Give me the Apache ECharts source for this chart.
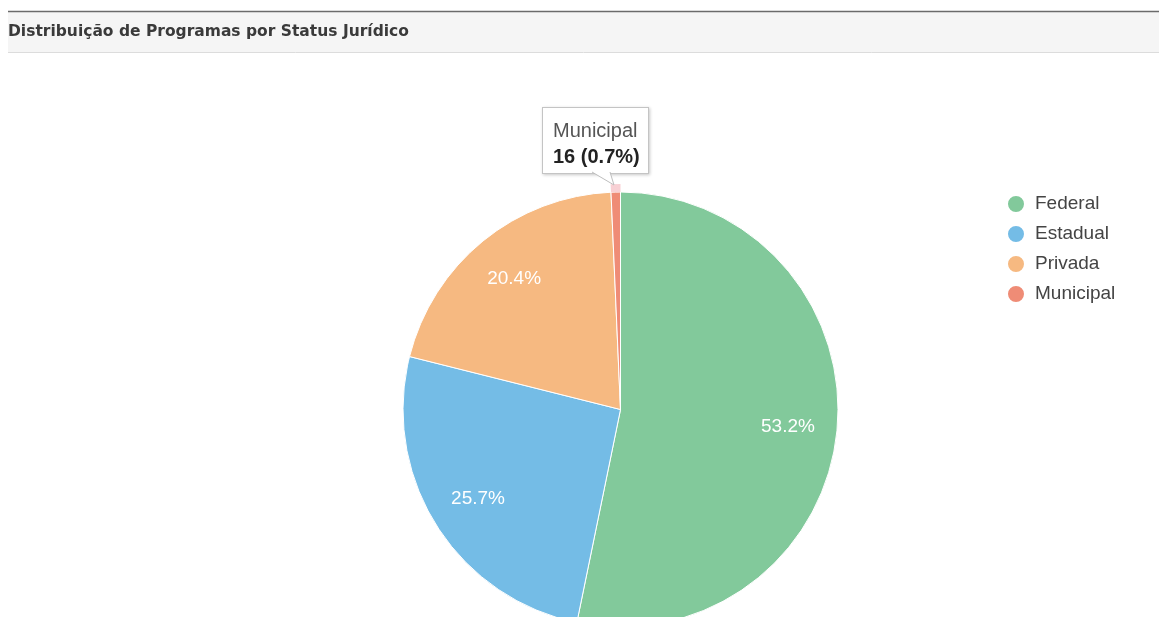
<!DOCTYPE html>
<html>
<head>
<meta charset="utf-8">
<script src="https://cdn.jsdelivr.net/npm/echarts@6/dist/echarts.min.js"></script>
<style>
  html, body { margin: 0; padding: 0; background: #fff; }
  #chart { width: 1159px; height: 617px; }
</style>
</head>
<body>
<div id="chart"></div>
<script>
// Programas por status jurídico
const categories = ['Federal', 'Estadual', 'Privada', 'Municipal'];
const programCounts = [1224, 591, 469, 16];
const chartTitle = 'Distribuição de Programas por Status Jurídico';
const focusedIndex = 3; // fatia com o balão aberto

const palette = ['#82c99b', '#74bce6', '#f6b981', '#ef8c76'];
const FONT = 'Arial, "Liberation Sans", sans-serif';
const TITLE_FONT = '"DejaVu Sans", Verdana, sans-serif';

const total = programCounts.reduce((a, b) => a + b, 0);
const pct = v => (v / total * 100).toFixed(1) + '%';

const CX = 620.5, CY = 409.5, R = 217.5, RING = 8;

const pieData = categories.map((name, i) => ({
  name, value: programCounts[i], itemStyle: { color: palette[i] }
}));

// anchor point of the callout: just outside the focused slice
function calloutTip() {
  let before = 0;
  for (let i = 0; i < focusedIndex; i++) before += programCounts[i];
  const mid = (before + programCounts[focusedIndex] / 2) / total * 2 * Math.PI;
  const rr = R + RING - 1;
  return [CX + rr * Math.sin(mid), CY - rr * Math.cos(mid)];
}

const chart = echarts.init(document.getElementById('chart'), null, { renderer: 'canvas' });

const tailSvg =
  '<svg width="30" height="16" style="position:absolute;left:49px;top:100%;margin-top:-1px;overflow:visible">' +
  '<polygon points="0,0 18,0 22,13" fill="#fff" stroke="none"/>' +
  '<polyline points="0,0 22,13 18,0" fill="none" stroke="#bdbdbd" stroke-width="1"/>' +
  '</svg>';

chart.setOption({
  animation: false,
  textStyle: { fontFamily: FONT },
  graphic: [
    { type: 'rect', silent: true, z: -1,
      shape: { x: 8, y: 11, width: 1151, height: 41 },
      style: { fill: '#f5f5f5' } },
    { type: 'line', silent: true,
      shape: { x1: 8, y1: 11.5, x2: 1159, y2: 11.5 },
      style: { stroke: '#6b6b6b', lineWidth: 1.5 } },
    { type: 'line', silent: true,
      shape: { x1: 8, y1: 52.5, x2: 1159, y2: 52.5 },
      style: { stroke: '#dcdcdc', lineWidth: 1 } }
  ],
  title: {
    text: chartTitle,
    left: 8, top: 23, padding: 0,
    textStyle: { fontFamily: TITLE_FONT, fontSize: 15.5, fontWeight: 'bold', color: '#3a3a3a', lineHeight: 18 }
  },
  legend: {
    orient: 'vertical',
    left: 1006, top: 194, padding: 0,
    icon: 'circle',
    itemWidth: 28, itemHeight: 18, itemGap: 10,
    selectedMode: false,
    data: categories.map((name, i) => ({ name, itemStyle: { color: palette[i] } })),
    textStyle: { fontFamily: FONT, fontSize: 19, lineHeight: 18, color: '#444' }
  },
  tooltip: {
    trigger: 'item',
    triggerOn: 'none',
    alwaysShowContent: true,
    transitionDuration: 0,
    backgroundColor: '#fff',
    borderColor: '#c4c4c4',
    borderWidth: 1,
    padding: [9, 8, 4, 10],
    extraCssText: 'border-radius:0;box-shadow:1px 1px 3px rgba(0,0,0,0.22);',
    formatter: p =>
      '<div style="font-family:Arial,\'Liberation Sans\',sans-serif;font-size:20px;line-height:26px;color:#555">' +
      p.name + '<br><b style="color:#222">' + p.value + ' (' + pct(p.value) + ')</b></div>' + tailSvg,
    position: () => {
      const [tx, ty] = calloutTip();
      return [tx - 74, ty - 78];
    }
  },
  series: [
    {
      name: 'Status',
      type: 'pie',
      center: [CX, CY],
      radius: [0, R],
      startAngle: 90,
      clockwise: true,
      emphasis: { disabled: true },
      itemStyle: { borderColor: '#fff', borderWidth: 1 },
      label: { show: false },
      labelLine: { show: false },
      data: pieData
    },
    {
      // hover ring around the focused slice
      type: 'pie',
      silent: true,
      center: [CX, CY],
      radius: [R, R + RING],
      startAngle: 90,
      clockwise: true,
      tooltip: { show: false },
      label: { show: false },
      labelLine: { show: false },
      data: categories.map((name, i) => ({
        name, value: programCounts[i],
        itemStyle: { color: i === focusedIndex ? 'rgba(240,150,160,0.45)' : 'rgba(0,0,0,0)' }
      }))
    },
    {
      // percentage labels
      type: 'pie',
      silent: true,
      center: [CX, CY],
      radius: [R * 0.52, R],
      startAngle: 90,
      clockwise: true,
      tooltip: { show: false },
      itemStyle: { color: 'rgba(0,0,0,0)' },
      labelLine: { show: false },
      label: {
        show: true,
        position: 'inside',
        fontFamily: FONT,
        fontSize: 19,
        color: '#fff',
        formatter: p => (p.value / total >= 0.05 ? pct(p.value) : '')
      },
      data: categories.map((name, i) => ({ name, value: programCounts[i] }))
    }
  ]
});

chart.dispatchAction({ type: 'showTip', seriesIndex: 0, dataIndex: focusedIndex });
</script>
</body>
</html>
